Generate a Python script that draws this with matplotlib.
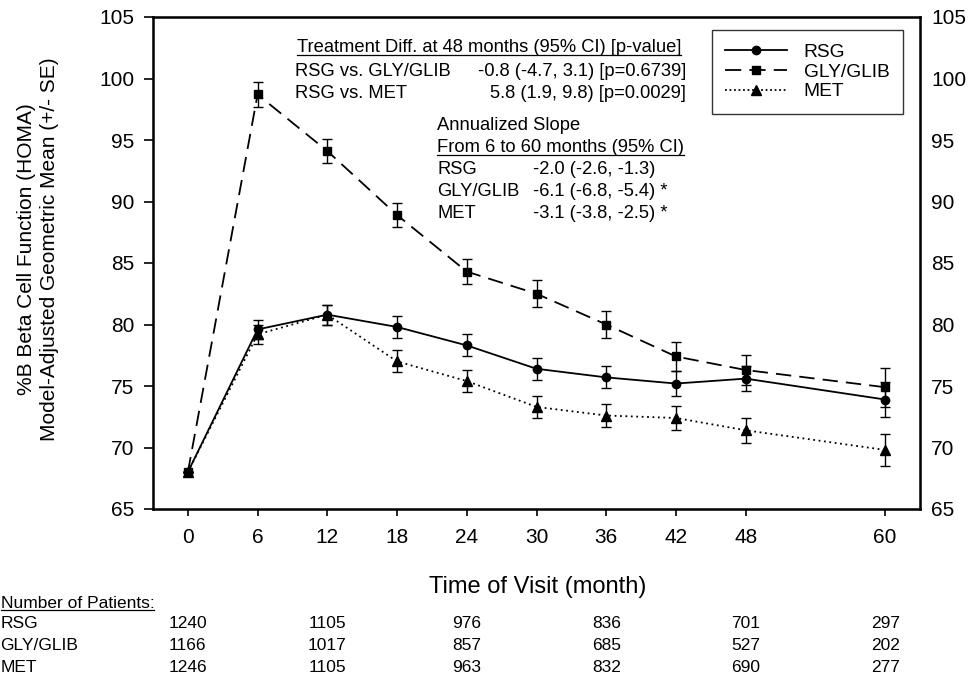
import matplotlib
matplotlib.use('Agg')
import matplotlib.pyplot as plt
import matplotlib.transforms as mtransforms
from matplotlib.lines import Line2D

plt.rcParams['font.family'] = ['Liberation Sans', 'DejaVu Sans']

# Data
months = [0, 6, 12, 18, 24, 30, 36, 42, 48, 60]
rsg = [68.0, 79.6, 80.8, 79.8, 78.3, 76.4, 75.7, 75.2, 75.6, 73.9]
rsg_se = [0.0, 0.8, 0.8, 0.9, 0.9, 0.9, 0.9, 1.0, 1.0, 1.4]
gly = [68.0, 98.7, 94.1, 88.9, 84.3, 82.5, 80.0, 77.4, 76.3, 74.9]
gly_se = [0.0, 1.0, 1.0, 1.0, 1.0, 1.1, 1.1, 1.2, 1.2, 1.6]
met = [68.0, 79.2, 80.8, 77.0, 75.4, 73.3, 72.6, 72.4, 71.4, 69.8]
met_se = [0.0, 0.8, 0.8, 0.9, 0.9, 0.9, 0.9, 1.0, 1.0, 1.3]

table_months = [0, 12, 24, 36, 48, 60]
table_groups = ['RSG', 'GLY/GLIB', 'MET']
table_counts = [
    [1240, 1105, 976, 836, 701, 297],
    [1166, 1017, 857, 685, 527, 202],
    [1246, 1105, 963, 832, 690, 277],
]

diff_title = 'Treatment Diff. at 48 months (95% CI) [p-value]'
diff_rows = [('RSG vs. GLY/GLIB', '-0.8 (-4.7, 3.1) [p=0.6739]'),
             ('RSG vs. MET', '5.8 (1.9, 9.8) [p=0.0029]')]
slope_title = ['Annualized Slope', 'From 6 to 60 months (95% CI)']
slope_rows = [('RSG', '-2.0 (-2.6, -1.3)'),
              ('GLY/GLIB', '-6.1 (-6.8, -5.4) *'),
              ('MET', '-3.1 (-3.8, -2.5) *')]

W, H = 972, 679
fig = plt.figure(figsize=(W / 100, H / 100), dpi=100)
ax = fig.add_axes([153 / W, 1 - 509 / H, (920 - 153) / W, (509 - 17) / H])

lw = 1.3
ekw = dict(ecolor='black', capsize=3.8, capthick=1.0, elinewidth=1.0,
           color='black', mfc='black', mec='black', linewidth=lw)
ax.errorbar(months, rsg, yerr=rsg_se, fmt='-', marker='o', ms=6, **ekw)
ax.errorbar(months, gly, yerr=gly_se, fmt='-', marker='s', ms=6,
            dashes=(8.5, 4.5), **ekw)
ax.errorbar(months, met, yerr=met_se, fmt='-', marker='^', ms=6.5,
            dashes=(1, 2), **ekw)

ax.set_xlim(-3, 63)
ax.set_ylim(65, 105)
ax.set_xticks(months)
ax.set_yticks(range(65, 106, 5))
for s in ax.spines.values():
    s.set_linewidth(1.8)
ax.tick_params(axis='both', direction='out', labelsize=15, width=1.2)
ax.tick_params(axis='y', length=6.5, pad=7)
ax.tick_params(axis='x', length=5, pad=9)

ax2 = ax.twinx()
ax2.set_ylim(65, 105)
ax2.set_yticks(range(65, 106, 5))
ax2.tick_params(axis='y', length=0, labelsize=15, pad=8)

fig.text(38 / W, 1 - 249 / H,
         '%B Beta Cell Function (HOMA)\nModel-Adjusted Geometric Mean (+/- SE)',
         fontsize=15, rotation=90, ha='center', va='center', multialignment='center',
         linespacing=1.3)
fig.text(538 / W, 1 - 587 / H, 'Time of Visit (month)', fontsize=17,
         ha='center', va='center')

handles = [
    Line2D([], [], color='black', lw=lw, marker='o', ms=6),
    Line2D([], [], color='black', lw=lw, marker='s', ms=6, dashes=(9, 4.5)),
    Line2D([], [], color='black', lw=lw, marker='^', ms=6.5, dashes=(1, 1.5)),
]
leg = ax.legend(handles, ['RSG', 'GLY/GLIB', 'MET'], loc='upper right',
                bbox_to_anchor=(903 / W, 1 - 30 / H),
                bbox_transform=fig.transFigure, fontsize=13.8, frameon=True,
                fancybox=False, edgecolor='black', handlelength=3.2,
                borderpad=0.7, labelspacing=0.12, handletextpad=0.9,
                borderaxespad=0)
leg.get_frame().set_linewidth(1.0)

underline = []
fs = 13.2
t = fig.text(297 / W, 1 - 48 / H, diff_title, fontsize=fs, va='center')
underline.append(t)
for i, (lab, val) in enumerate(diff_rows):
    y = 1 - (71 + 22 * i) / H
    fig.text(295 / W, y, lab, fontsize=fs, va='center')
    fig.text(686 / W, y, val, fontsize=fs, va='center', ha='right')

fig.text(437 / W, 1 - 126 / H, slope_title[0], fontsize=fs, va='center')
t = fig.text(437 / W, 1 - 148 / H, slope_title[1], fontsize=fs, va='center')
underline.append(t)
for i, (lab, val) in enumerate(slope_rows):
    y = 1 - (170 + 22 * i) / H
    fig.text(437 / W, y, lab, fontsize=fs, va='center')
    fig.text(533 / W, y, val, fontsize=fs, va='center')

# patient counts table under the axis
tfs = 12.5
trans = mtransforms.blended_transform_factory(ax.transData, fig.transFigure)
t = fig.text(0.5 / W, 1 - 604 / H, 'Number of Patients:', fontsize=tfs, va='center')
underline.append(t)
for r, (grp, counts) in enumerate(zip(table_groups, table_counts)):
    y = 1 - (624 + 22 * r) / H
    fig.text(0.5 / W, y, grp, fontsize=tfs, va='center')
    for m, c in zip(table_months, counts):
        fig.text(m, y, str(c), fontsize=tfs, va='center', ha='center', transform=trans)

fig.canvas.draw()
renderer = fig.canvas.get_renderer()
inv = fig.transFigure.inverted()
for t in underline:
    bb = t.get_window_extent(renderer)
    (x0, y0), (x1, y1) = inv.transform([[bb.x0, bb.y0], [bb.x1, bb.y1]])
    yl = y0 + 1.5 / H
    fig.add_artist(Line2D([x0, x1], [yl, yl], color='black', lw=0.9,
                          transform=fig.transFigure))

fig.savefig('out.png', dpi=100)
